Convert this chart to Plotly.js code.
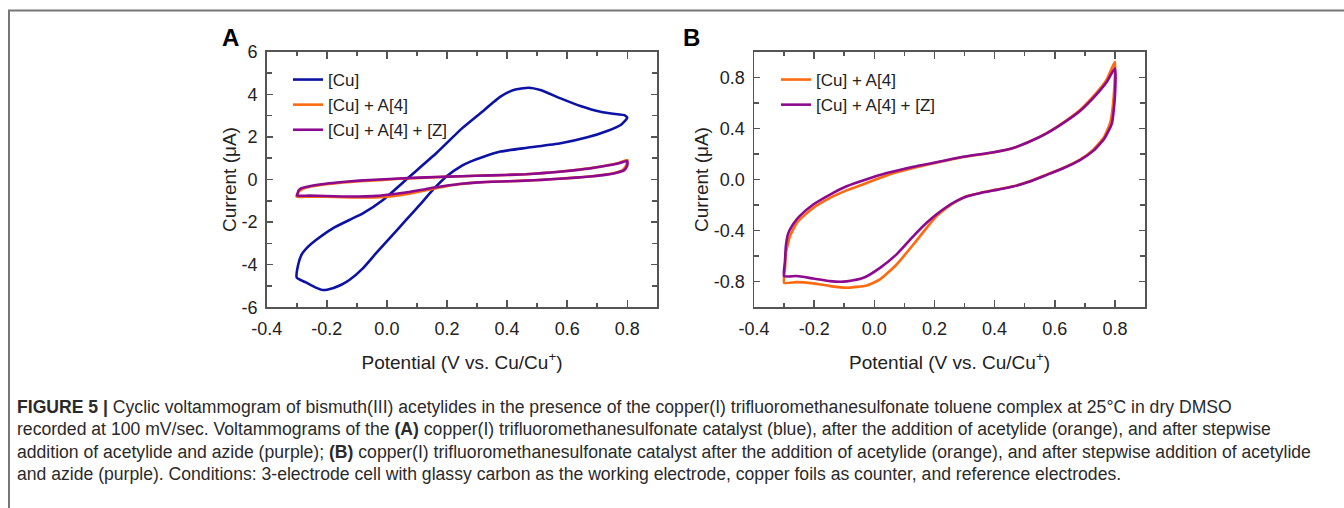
<!DOCTYPE html>
<html><head><meta charset="utf-8">
<script src="https://cdn.plot.ly/plotly-3.0.1.min.js"></script>
<style>html,body{margin:0;padding:0;background:#fff;}#chart{width:1344px;height:508px;}</style>
</head><body><div id="chart"></div>
<script>
// ---- Data ----
// Panel A: [Cu] loop (potential V, current uA)
const cuV = [-0.300,-0.270,-0.240,-0.213,-0.180,-0.150,-0.125,-0.080,-0.036,0.014,0.064,0.110,0.153,0.200,0.250,0.278,0.322,0.378,0.467,0.578,0.667,0.733,0.778,0.800,0.790,0.767,0.711,0.644,0.578,0.511,0.472,0.422,0.378,0.311,0.250,0.164,0.075,-0.013,-0.080,-0.125,-0.180,-0.236,-0.262,-0.283,-0.296,-0.300];
const cuI = [-4.61,-4.83,-5.05,-5.19,-5.10,-4.93,-4.72,-4.17,-3.46,-2.68,-1.90,-1.18,-0.49,0.16,0.65,0.84,1.07,1.31,1.49,1.70,1.98,2.28,2.56,2.90,3.02,3.06,3.18,3.45,3.81,4.20,4.31,4.20,3.89,3.11,2.40,1.23,0.13,-0.96,-1.59,-1.90,-2.29,-2.84,-3.15,-3.50,-4.05,-4.61];

// [Cu] + A[4] loop: anodic sweep then return sweep
const orVup = [-0.300,-0.297,-0.294,-0.287,-0.280,-0.258,-0.230,-0.203,-0.147,-0.092,-0.025,0.041,0.130,0.202,0.296,0.396,0.462,0.517,0.573,0.628,0.684,0.739,0.772,0.800];
const orIup = [-0.808,-0.700,-0.574,-0.500,-0.440,-0.340,-0.275,-0.222,-0.144,-0.085,-0.027,0.032,0.090,0.129,0.176,0.212,0.246,0.298,0.363,0.446,0.545,0.680,0.779,0.922];
const orVdn = [0.796,0.785,0.763,0.728,0.684,0.628,0.573,0.517,0.462,0.407,0.351,0.307,0.274,0.240,0.207,0.174,0.130,0.074,0.019,-0.025,-0.092,-0.147,-0.203,-0.258,-0.300];
const orIdn = [0.650,0.450,0.330,0.233,0.155,0.090,0.038,-0.014,-0.053,-0.079,-0.105,-0.131,-0.170,-0.222,-0.287,-0.378,-0.508,-0.665,-0.782,-0.829,-0.847,-0.834,-0.813,-0.803,-0.808];

// [Cu] + A[4] + [Z] loop
const puVup = [-0.300,-0.297,-0.294,-0.286,-0.270,-0.250,-0.203,-0.147,-0.092,-0.025,0.041,0.130,0.202,0.296,0.396,0.462,0.517,0.573,0.628,0.684,0.739,0.772,0.800];
const puIup = [-0.756,-0.640,-0.520,-0.420,-0.350,-0.290,-0.196,-0.118,-0.053,0.002,0.050,0.100,0.133,0.178,0.213,0.247,0.297,0.361,0.441,0.536,0.666,0.760,0.870];
const puVdn = [0.800,0.790,0.765,0.730,0.684,0.628,0.573,0.517,0.462,0.407,0.351,0.307,0.274,0.240,0.207,0.174,0.130,0.074,0.019,-0.036,-0.092,-0.114,-0.147,-0.203,-0.258,-0.300];
const puIdn = [0.650,0.440,0.320,0.228,0.152,0.088,0.036,-0.016,-0.055,-0.081,-0.107,-0.133,-0.168,-0.215,-0.272,-0.339,-0.443,-0.586,-0.691,-0.769,-0.797,-0.800,-0.795,-0.775,-0.755,-0.756];

const seriesNames = ['[Cu]', '[Cu] + A[4]', '[Cu] + A[4] + [Z]'];
const xTickVals = [-0.4,-0.2,0.0,0.2,0.4,0.6,0.8];
const xTickText = ['-0.4','-0.2','0.0','0.2','0.4','0.6','0.8'];
const yATickVals = [-6,-4,-2,0,2,4,6];
const yATickText = ['-6','-4','-2','0','2','4','6'];
const yBTickVals = [-0.8,-0.4,0.0,0.4,0.8];
const yBTickText = ['-0.8','-0.4','0.0','0.4','0.8'];

const captionLines = [
  '<b>FIGURE 5 |</b> Cyclic voltammogram of bismuth(III) acetylides in the presence of the copper(I) trifluoromethanesulfonate toluene complex at 25°C in dry DMSO',
  'recorded at 100 mV/sec. Voltammograms of the <b>(A)</b> copper(I) trifluoromethanesulfonate catalyst (blue), after the addition of acetylide (orange), and after stepwise',
  'addition of acetylide and azide (purple); <b>(B)</b> copper(I) trifluoromethanesulfonate catalyst after the addition of acetylide (orange), and after stepwise addition of acetylide',
  'and azide (purple). Conditions: 3-electrode cell with glassy carbon as the working electrode, copper foils as counter, and reference electrodes.'
];

// ---- Styling ----
const BLUE = '#0c12a6', ORANGE = '#ff6a10', PURPLE = '#8c0a8f';
const W = 1344, H = 508;
const px = v => v / W, py = v => (H - v) / H;
const FONT = 'Liberation Sans, Arial, Helvetica, sans-serif';
const lw = 2.6;

const orV = orVup.concat(orVdn), orI = orIup.concat(orIdn);
const puV = puVup.concat(puVdn), puI = puIup.concat(puIdn);

const line = (c) => ({color: c, width: lw, shape: 'spline', smoothing: 0.5});
const traces = [
  {x: cuV, y: cuI, name: seriesNames[0], mode: 'lines', line: line(BLUE), xaxis: 'x', yaxis: 'y', legend: 'legend'},
  {x: orV, y: orI, name: seriesNames[1], mode: 'lines', line: line(ORANGE), xaxis: 'x', yaxis: 'y', legend: 'legend'},
  {x: puV, y: puI, name: seriesNames[2], mode: 'lines', line: line(PURPLE), xaxis: 'x', yaxis: 'y', legend: 'legend'},
  {x: orV, y: orI, name: seriesNames[1], mode: 'lines', line: line(ORANGE), xaxis: 'x2', yaxis: 'y2', legend: 'legend2'},
  {x: puV, y: puI, name: seriesNames[2], mode: 'lines', line: line(PURPLE), xaxis: 'x2', yaxis: 'y2', legend: 'legend2'}
];

const axCol = '#555';
function xAxis(domain, anchor) {
  return {domain, anchor, range: [-0.4, 0.9], tickmode: 'array', tickvals: xTickVals, ticktext: xTickText,
    showline: true, linecolor: axCol, linewidth: 1.5, mirror: 'ticks', ticks: 'inside', ticklen: 7, tickwidth: 1.5, tickcolor: axCol,
    minor: {ticks: 'inside', ticklen: 4, tickwidth: 1.5, tickcolor: axCol, tick0: -0.4, dtick: 0.1, showgrid: false},
    showgrid: false, zeroline: false, ticklabelstandoff: 5,
    tickfont: {family: FONT, size: 18, color: '#222'},
    title: {text: 'Potential (V vs. Cu/Cu<sup>+</sup>)', font: {family: FONT, size: 19, color: '#222'}, standoff: 17}};
}
function yAxis(domain, anchor, range, vals, text, minorDt) {
  return {domain, anchor, range, tickmode: 'array', tickvals: vals, ticktext: text,
    showline: true, linecolor: axCol, linewidth: 1.5, mirror: 'ticks', ticks: 'inside', ticklen: 6, tickwidth: 1.5, tickcolor: axCol,
    minor: {ticks: 'inside', ticklen: 5, tickwidth: 1.5, tickcolor: axCol, tick0: range[0], dtick: minorDt, showgrid: false},
    showgrid: false, zeroline: false, ticklabelstandoff: 4,
    tickfont: {family: FONT, size: 18, color: '#222'},
    title: {text: 'Current (μA)', font: {family: FONT, size: 19, color: '#222'}, standoff: 0}};
}

const yDom = [py(307.3), py(51.7)];
const legendFont = {family: FONT, size: 17, color: '#222'};
const layout = {
  width: W, height: H, margin: {l: 0, r: 0, t: 0, b: 0},
  paper_bgcolor: '#fff', plot_bgcolor: '#fff',
  font: {family: FONT, color: '#222'},
  showlegend: true,
  xaxis: xAxis([px(266.7), px(657.3)], 'y'),
  yaxis: yAxis(yDom, 'x', [-6, 6], yATickVals, yATickText, 1),
  xaxis2: xAxis([px(754), px(1145)], 'y2'),
  yaxis2: yAxis(yDom, 'x2', [-1, 1], yBTickVals, yBTickText, 0.2),
  legend: {x: px(288), y: py(62), xanchor: 'left', yanchor: 'top', bgcolor: 'rgba(0,0,0,0)', borderwidth: 0,
    font: legendFont, tracegroupgap: 0, itemwidth: 30},
  legend2: {x: px(776), y: py(62), xanchor: 'left', yanchor: 'top', bgcolor: 'rgba(0,0,0,0)', borderwidth: 0,
    font: legendFont, tracegroupgap: 0, itemwidth: 30},
  shapes: [
    {type: 'path', xref: 'paper', yref: 'paper', path: `M ${px(9)} 0 L ${px(9)} ${py(10.5)} L 1 ${py(10.5)}`,
     line: {color: '#777', width: 2}}
  ],
  annotations: [
    {text: '<b>A</b>', xref: 'paper', yref: 'paper', x: px(230), y: py(38), xanchor: 'center', yanchor: 'middle', showarrow: false,
     font: {family: FONT, size: 24, color: '#000'}},
    {text: '<b>B</b>', xref: 'paper', yref: 'paper', x: px(691.5), y: py(38), xanchor: 'center', yanchor: 'middle', showarrow: false,
     font: {family: FONT, size: 24, color: '#000'}}
  ].concat(captionLines.map((t, i) => ({
    text: t, xref: 'paper', yref: 'paper', x: px(15), y: py(407 + i * 22.4), xanchor: 'left', yanchor: 'middle',
    align: 'left', showarrow: false, font: {family: FONT, size: 17.6, color: '#2a2a2a'}
  })))
};

Plotly.newPlot('chart', traces, layout, {displayModeBar: false, staticPlot: true});
</script></body></html>
